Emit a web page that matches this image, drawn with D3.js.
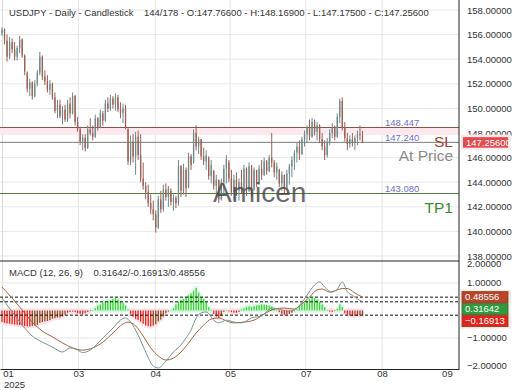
<!DOCTYPE html>
<html>
<head>
<meta charset="utf-8">
<script src="https://cdn.jsdelivr.net/npm/d3@7"></script>
<style>
body { margin: 0; background: #fff; }
svg { display: block; font-family: "Liberation Sans", Arial, sans-serif; }
</style>
</head>
<body>
<div id="chart"></div>
<script>
// daily bars
var opens = [
  156.1,156.4,155.5,154.2,155.4,154.8,154.2,154.9,155.6,154.3,
  152.9,151.6,152.1,151.0,152.0,152.9,154.2,152.6,152.2,151.5,
  152.0,150.9,149.8,150.3,149.4,149.9,149.1,150.4,149.6,151.0,
  148.9,148.3,147.3,147.6,146.8,148.3,148.0,147.7,149.2,148.5,
  149.6,149.0,150.4,150.0,150.8,150.3,150.9,149.9,149.6,150.0,
  148.3,145.7,147.3,146.1,147.7,146.2,144.3,143.7,143.2,142.3,
  141.8,141.4,140.3,142.6,141.8,143.4,142.8,143.3,142.4,142.7,
  142.3,145.3,143.3,145.0,143.6,146.1,145.6,148.0,146.9,147.5,
  146.1,145.7,146.0,144.5,144.9,143.7,144.2,142.6,144.0,145.1,
  145.6,144.3,143.2,144.2,143.3,144.0,143.5,145.1,143.3,145.3,
  143.4,145.0,143.9,145.1,144.6,145.7,144.9,146.0,145.6,144.8,
  145.0,143.9,144.6,143.5,144.7,145.3,145.8,146.4,146.9,146.3,
  147.5,147.9,148.4,147.7,148.9,148.1,148.6,147.5,146.9,146.2,
  147.3,148.0,148.4,147.7,149.3,150.6,148.4,147.6,147.1,147.5,
  147.2,147.6,147.9,147.766];
var highs = [
  156.6,156.5,156.0,155.8,155.7,155.4,155.1,155.9,155.7,154.4,
  153.0,152.4,152.2,152.3,153.1,154.6,154.3,153.1,152.7,152.3,
  152.1,151.3,150.7,150.7,150.2,150.3,150.7,150.9,151.3,151.1,
  149.3,148.5,147.9,147.9,148.6,149.2,148.6,149.5,149.3,149.9,
  149.8,150.7,150.9,151.1,151.0,151.2,151.1,150.5,150.4,150.3,
  148.4,147.8,147.9,148.1,148.2,147.9,145.6,144.0,143.8,143.0,
  142.5,141.7,142.9,143.3,143.8,143.9,143.7,143.5,143.0,142.9,
  145.8,145.4,145.5,145.2,146.4,146.3,148.3,148.65,147.7,147.5,
  146.8,146.6,146.1,145.8,145.0,144.6,144.2,144.3,145.4,146.2,
  145.8,145.0,144.6,144.8,144.3,145.0,145.4,145.2,145.6,145.4,
  145.2,145.0,145.4,145.8,146.0,145.8,146.2,148.0,145.8,145.6,
  145.1,144.9,144.6,145.0,145.5,146.1,146.6,147.2,147.4,147.7,
  148.2,148.6,149.1,149.2,149.1,148.9,148.7,148.0,147.4,147.6,
  148.3,148.8,148.6,149.6,150.8,150.9,148.9,148.0,147.8,148.0,
  147.8,148.2,148.6,148.169];
var lows = [
  155.9,155.2,153.8,154.0,154.5,153.9,153.9,154.5,154.1,152.7,
  151.3,151.0,150.7,150.9,151.8,152.7,152.3,151.9,151.3,151.1,
  150.7,149.6,149.2,149.2,148.7,148.9,148.9,149.2,149.5,148.6,
  148.1,147.0,146.6,146.5,146.7,147.8,147.4,147.6,148.2,148.4,
  148.6,148.9,149.7,149.8,150.0,149.8,149.7,149.2,148.8,148.3,
  145.4,145.4,145.6,144.6,145.8,144.0,143.4,142.6,142.0,141.4,
  140.9,139.9,140.2,141.5,141.6,142.5,142.0,142.1,141.7,141.9,
  142.1,142.8,143.0,142.8,143.5,145.0,145.5,146.6,146.3,145.8,
  145.4,145.0,144.2,143.9,143.4,142.8,142.3,142.5,142.9,143.9,
  144.0,142.9,142.5,142.9,142.5,143.1,143.3,142.9,143.2,142.8,
  143.3,143.6,143.8,144.2,144.5,144.6,144.8,145.2,144.4,144.2,
  143.6,143.3,143.1,143.4,143.8,144.4,145.0,145.6,145.8,146.2,
  146.9,147.2,147.4,147.6,147.8,147.4,147.2,146.6,145.8,146.0,
  147.0,147.6,147.4,147.6,148.8,148.2,147.3,146.6,146.8,146.9,
  146.6,147.0,147.4,147.175];
var closes = [
  156.4,155.5,154.2,155.4,154.8,154.2,154.9,155.6,154.3,153.0,
  151.6,152.1,151.0,152.0,152.9,154.2,152.6,152.2,151.5,152.0,
  150.9,149.8,150.3,149.4,149.9,149.1,150.4,149.6,151.0,148.9,
  148.3,147.3,147.6,146.8,148.3,148.0,147.7,149.2,148.5,149.6,
  149.0,150.4,150.0,150.8,150.3,150.9,149.9,149.6,150.0,148.5,
  145.7,147.3,146.1,147.7,146.2,144.3,143.7,143.2,142.3,141.8,
  141.4,140.3,142.6,141.8,143.4,142.8,143.5,142.4,142.7,142.3,
  145.3,143.3,145.0,143.5,146.1,145.4,148.0,146.9,147.5,146.1,
  145.7,146.2,144.5,145.4,143.7,144.2,142.6,144.0,145.1,145.9,
  144.3,143.2,144.2,143.3,144.0,143.5,145.1,143.3,145.3,143.4,
  145.0,143.9,145.1,144.6,145.7,144.9,146.0,145.6,144.8,145.3,
  143.9,144.6,143.5,144.7,145.3,145.8,146.4,146.9,146.3,147.5,
  147.9,148.4,147.7,148.9,148.1,148.6,147.5,146.9,146.2,147.3,
  148.0,148.4,147.7,149.3,150.6,148.4,147.6,147.1,147.5,147.2,
  147.6,147.9,147.8,147.256];

// MACD histogram, one per bar
var histVals = [
  -0.42,-0.45,-0.47,-0.48,-0.50,-0.51,-0.52,-0.53,-0.55,-0.57,
  -0.58,-0.58,-0.56,-0.55,-0.52,-0.45,-0.42,-0.40,-0.38,-0.35,
  -0.30,-0.28,-0.26,-0.25,-0.22,-0.15,-0.08,-0.05,-0.04,-0.06,
  -0.10,-0.12,-0.13,-0.10,-0.06,-0.02,0.02,0.08,0.18,0.22,
  0.28,0.32,0.35,0.38,0.42,0.45,0.40,0.33,0.28,0.18,
  0.04,-0.12,-0.22,-0.30,-0.34,-0.40,-0.48,-0.54,-0.57,-0.58,
  -0.55,-0.50,-0.40,-0.33,-0.22,-0.10,-0.04,0.02,0.08,0.22,
  0.32,0.38,0.42,0.48,0.55,0.62,0.72,0.82,0.65,0.50,
  0.42,0.30,0.12,0.02,-0.12,-0.22,-0.27,-0.20,-0.05,0.02,
  -0.03,-0.06,-0.08,-0.08,-0.05,0.04,0.08,0.12,0.15,0.13,
  0.16,0.18,0.20,0.22,0.22,0.20,0.18,0.15,0.06,0.00,
  -0.06,-0.12,-0.15,-0.15,-0.12,-0.08,-0.02,0.05,0.15,0.22,
  0.28,0.35,0.42,0.45,0.45,0.40,0.30,0.22,0.12,0.02,
  -0.04,-0.05,-0.02,0.06,0.22,0.12,-0.10,-0.15,-0.18,-0.20,
  -0.20,-0.19,-0.18,-0.16913];

// MACD line (bar index / value)
var macdBars = [0,4,8,12,16,20,24,27,30,32,35,37,40,44,47,49,51,54,57,60,
  62,65,68,71,73,75,77,79,81,84,86,89,92,95,99,103,107,111,114,117,
  120,123,126,128,131,133,135,137,139,141,143];
var macdVals = [0.45,-0.05,-0.53,-0.93,-1.15,-1.33,-1.51,-1.36,-1.44,-1.53,
  -1.44,-1.29,-1.0,-0.64,-0.35,-0.27,-0.42,-0.89,-1.51,-2.02,
  -2.09,-1.84,-1.51,-1.25,-1.0,-0.71,-0.27,-0.09,-0.05,-0.35,
  -0.45,-0.35,-0.42,-0.45,-0.27,-0.2,0.09,0.02,-0.02,0.09,
  0.42,0.82,1.04,0.85,0.67,0.78,1.04,0.68,0.55,0.42,0.31642];
// signal line
var signalBars = [0,4,8,12,16,20,24,28,32,36,40,44,48,50,53,56,59,62,65,68,
  71,74,77,80,83,86,89,92,96,100,104,108,112,116,119,122,125,127,130,133,
  135,137,139,141,143];
var signalVals = [0.85,0.45,0.02,-0.42,-0.75,-0.96,-1.18,-1.36,-1.44,-1.36,
  -1.15,-0.82,-0.49,-0.42,-0.56,-0.93,-1.36,-1.65,-1.8,-1.73,
  -1.51,-1.18,-0.82,-0.53,-0.31,-0.27,-0.38,-0.45,-0.42,-0.35,
  -0.13,0.05,0.09,0.05,0.24,0.49,0.75,0.78,0.67,0.75,
  0.80,0.80,0.70,0.58,0.48556];

var tickBars = [2.4, 30.3, 60.8, 90.5, 120.5, 150.8, 176.5];
var tickLabels = ["01", "03", "04", "05", "07", "08", "09"];
var priceTicks = [138, 140, 142, 144, 146, 148, 150, 152, 154, 156, 158];
var macdTicks = [2, 1, -1, -2];
var levelPrices = [148.447, 147.240, 143.080];
var macdLast = [0.48556, 0.31642, -0.16913];
var lastClose = 147.256;

var width = 520; var height = 390;
var plotRight = 459;
var mainBottom = 261; var macdBottom = 369;
var upColor = "#6d8a89", downColor = "#9a5f55";
var axisFont = "9.5px";

var x = d3.scaleLinear().domain([-0.8, 181.3]).range([0, plotRight]);
var yP = d3.scaleLinear().domain([138, 158]).range([256, 10]);
var yM = d3.scaleLinear().domain([-2, 2]).range([365.5, 255.5]);

var svg = d3.select("#chart").append("svg")
    .attr("width", width)
    .attr("height", height);

var defs = svg.append("defs");
defs.append("clipPath").attr("id", "clipMain")
    .append("rect").attr("x", 0).attr("y", 0).attr("width", plotRight).attr("height", mainBottom);
defs.append("clipPath").attr("id", "clipMacd")
    .append("rect").attr("x", 0).attr("y", mainBottom).attr("width", plotRight).attr("height", macdBottom - mainBottom);

/* grid */
var grid = svg.append("g").attr("class", "grid");
grid.selectAll(".hgrid").data(priceTicks).enter().append("line")
    .attr("x1", 0).attr("x2", plotRight)
    .attr("y1", d => yP(d)).attr("y2", d => yP(d))
    .style("stroke", "#e8e8e8");
grid.selectAll(".mgrid").data([1, -1]).enter().append("line")
    .attr("x1", 0).attr("x2", plotRight)
    .attr("y1", d => yM(d)).attr("y2", d => yM(d))
    .style("stroke", "#e8e8e8");
grid.selectAll(".vgrid").data(tickBars.slice(1, 6)).enter().append("line")
    .attr("x1", d => x(d)).attr("x2", d => x(d))
    .attr("y1", 0).attr("y2", macdBottom)
    .style("stroke", "#e4e4e4");
grid.append("line")
    .attr("x1", 2.5).attr("x2", 2.5).attr("y1", 0).attr("y2", macdBottom)
    .style("stroke", "#dcdcdc");

/* price levels */
var main = svg.append("g").attr("clip-path", "url(#clipMain)");
main.append("rect")
    .attr("x", 0).attr("width", plotRight)
    .attr("y", yP(148.40)).attr("height", yP(147.85) - yP(148.40))
    .style("fill", "#fde8ee");
var levelColors = ["#8a5444", "#7a7a7a", "#4d7f37"];
main.selectAll(".level").data(levelPrices).enter().append("line")
    .attr("x1", 0).attr("x2", plotRight)
    .attr("y1", d => yP(d)).attr("y2", d => yP(d))
    .style("stroke", (d, i) => levelColors[i])
    .style("stroke-width", 1);

/* candles */
var bars = d3.range(opens.length);
var candles = main.append("g").attr("class", "candles");
candles.selectAll(".wick").data(bars).enter().append("line")
    .attr("x1", i => x(i)).attr("x2", i => x(i))
    .attr("y1", i => yP(highs[i])).attr("y2", i => yP(lows[i]))
    .style("stroke", i => closes[i] >= opens[i] ? upColor : downColor)
    .style("stroke-width", 1);
candles.selectAll(".body").data(bars).enter().append("rect")
    .attr("x", i => x(i) - 0.65)
    .attr("width", 1.3)
    .attr("y", i => yP(Math.max(opens[i], closes[i])))
    .attr("height", i => Math.max(1, Math.abs(yP(opens[i]) - yP(closes[i]))))
    .style("fill", i => closes[i] >= opens[i] ? upColor : downColor);

// watermark
main.append("text")
    .attr("x", 213).attr("y", 202)
    .text("Amicen")
    .style("font-size", "28px")
    .style("fill", "#3f3f3f")
    .style("opacity", 0.78);

/* level labels */
var levelText = svg.append("g");
levelText.selectAll(".lvl").data(levelPrices).enter().append("text")
    .attr("x", 385)
    .attr("y", d => yP(d) - 1.8)
    .text(d => d3.format(".3f")(d))
    .style("font-size", axisFont)
    .style("fill", "#6e70c8");
var bigLabels = [
  {t: "SL", p: levelPrices[1], dy: 5, c: "#a8402e"},
  {t: "At Price", p: levelPrices[1], dy: 19, c: "#8a8a8a"},
  {t: "TP1", p: levelPrices[2], dy: 19.5, c: "#3c8a27"}
];
levelText.selectAll(".big").data(bigLabels).enter().append("text")
    .attr("x", 453)
    .attr("y", d => yP(d.p) + d.dy)
    .attr("text-anchor", "end")
    .text(d => d.t)
    .style("font-size", "15.5px")
    .style("fill", d => d.c);

/* MACD panel */
var macdG = svg.append("g").attr("clip-path", "url(#clipMacd)");
var histColor = function(i) {
    var v = histVals[i];
    var prev = i > 0 ? histVals[i - 1] : v;
    if (v >= 0) return "#3ed22c";
    return v > prev ? "#8d4a1c" : "#dc2a1c";
};
macdG.selectAll(".halo").data(bars).enter().append("rect")
    .attr("x", i => x(i) - 1.8)
    .attr("width", 3.6)
    .attr("y", i => Math.min(yM(0), yM(histVals[i])) - 2)
    .attr("height", i => Math.abs(yM(histVals[i]) - yM(0)) + 4)
    .style("fill", i => histVals[i] >= 0 ? "#d9fbe9" : "#ffe0e8");
macdG.selectAll(".hist").data(bars).enter().append("rect")
    .attr("x", i => x(i) - 0.65)
    .attr("width", 1.3)
    .attr("y", i => Math.min(yM(0), yM(histVals[i])))
    .attr("height", i => Math.max(0.6, Math.abs(yM(histVals[i]) - yM(0))))
    .style("fill", histColor);

macdG.selectAll(".dash").data(macdLast).enter().append("line")
    .attr("x1", 0).attr("x2", plotRight)
    .attr("y1", d => yM(d)).attr("y2", d => yM(d))
    .style("stroke", "#111")
    .style("stroke-dasharray", "3,2");

var macdLine = d3.line()
    .x(d => x(d[0]))
    .y(d => yM(d[1]))
    .curve(d3.curveMonotoneX);
macdG.append("path")
    .attr("d", macdLine(d3.zip(signalBars, signalVals)))
    .style("fill", "none").style("stroke", "#a3613f").style("stroke-width", 1);
macdG.append("path")
    .attr("d", macdLine(d3.zip(macdBars, macdVals)))
    .style("fill", "none").style("stroke", "#76958f").style("stroke-width", 1);

/* separators */
svg.append("line")
    .attr("x1", 0).attr("x2", plotRight)
    .attr("y1", mainBottom).attr("y2", mainBottom)
    .style("stroke", "#222");

/* right axes */
var yAxis = d3.axisRight(yP)
    .tickValues(priceTicks)
    .tickFormat(d3.format(".5f"))
    .tickSize(0)
    .tickPadding(8);
var yAxisG = svg.append("g")
    .attr("transform", `translate(${plotRight},0)`)
    .call(yAxis);
yAxisG.select(".domain").remove();

var mAxisG = svg.append("g")
    .attr("transform", `translate(${plotRight},0)`);
mAxisG.selectAll("text").data(macdTicks).enter().append("text")
    .attr("x", 8)
    .attr("y", d => Math.max(yM(d), 264))
    .attr("dy", "0.32em")
    .text(d => d3.format(".5f")(d));

svg.append("line")
    .attr("x1", plotRight).attr("x2", plotRight)
    .attr("y1", 0).attr("y2", macdBottom)
    .style("stroke", "#222");

svg.selectAll("g text").filter(function() { return !this.style.fontSize; })
    .style("font-size", axisFont)
    .style("fill", "#333")
    .style("font-family", '"Liberation Sans", Arial, sans-serif');

/* last price box */
svg.append("rect")
    .attr("x", 461).attr("width", 50)
    .attr("y", yP(lastClose) - 7.5).attr("height", 15)
    .style("fill", "#fde6ec");
svg.append("rect")
    .attr("x", 463).attr("width", 45)
    .attr("y", yP(lastClose) - 5).attr("height", 10.5)
    .style("fill", "#e24a4c");
svg.append("text")
    .attr("x", 466).attr("y", yP(lastClose) + 0.3)
    .attr("dy", "0.34em")
    .text(d3.format(".5f")(lastClose))
    .style("font-size", axisFont)
    .style("fill", "#fff");

/* MACD value boxes, stacked so they do not overlap */
var boxY = [];
macdLast.forEach((v, i) => {
    var yy = yM(v);
    if (i > 0) yy = Math.max(yy, boxY[i - 1] + 12);
    boxY.push(yy);
});
var boxFill = ["#b8452a", "#2f9a40", "#e3231d"];
var boxHalo = ["#f6dcd4", "#d6fbef", "#ffdbe6"];
var boxes = svg.append("g");
boxes.append("rect")
    .attr("x", 462).attr("width", 46)
    .attr("y", boxY[1] + 4).attr("height", boxY[2] - boxY[1] - 2)
    .style("fill", "#6d4414");
boxes.selectAll(".halo").data(macdLast).enter().append("rect")
    .attr("x", 460).attr("width", 51)
    .attr("y", (d, i) => boxY[i] - 7.5).attr("height", 15)
    .style("fill", (d, i) => boxHalo[i])
    .style("opacity", 0.7);
boxes.selectAll(".box").data(macdLast).enter().append("rect")
    .attr("x", 462).attr("width", 46)
    .attr("y", (d, i) => boxY[i] - 5.5).attr("height", 11)
    .style("fill", (d, i) => boxFill[i])
    .style("stroke", "#6d4414")
    .style("stroke-width", 0.8);
boxes.selectAll(".boxText").data(macdLast).enter().append("text")
    .attr("x", 465)
    .attr("y", (d, i) => boxY[i])
    .attr("dy", "0.34em")
    .text(d => d3.format(".5f")(d))
    .style("font-size", axisFont)
    .style("fill", "#fff");

/* x axis */
var xAxis = d3.axisBottom(x)
    .tickValues(tickBars)
    .tickFormat((d, i) => tickLabels[i])
    .tickSize(0)
    .tickPadding(1.5);
var xAxisG = svg.append("g")
    .attr("transform", `translate(0,${macdBottom})`)
    .call(xAxis);
xAxisG.select(".domain").style("stroke", "#222");
xAxisG.selectAll("text")
    .style("font-size", axisFont)
    .style("fill", "#333")
    .style("font-family", '"Liberation Sans", Arial, sans-serif');
svg.append("text")
    .attr("x", 4).attr("y", 388)
    .text("2025")
    .style("font-size", axisFont)
    .style("fill", "#333");

/* titles */
svg.append("text")
    .attr("x", 9).attr("y", 15.5)
    .attr("xml:space", "preserve")
    .text("USDJPY - Daily - Candlestick    144/178 - O:147.76600 - H:148.16900 - L:147.17500 - C:147.25600")
    .style("font-size", axisFont)
    .style("fill", "#333")
    .style("white-space", "pre");
svg.append("text")
    .attr("x", 9).attr("y", 275.5)
    .text("MACD (12, 26, 9)    " + macdLast[1].toFixed(5) + "/" + macdLast[2].toFixed(5) + "/" + macdLast[0].toFixed(5))
    .style("font-size", axisFont)
    .style("fill", "#333")
    .style("white-space", "pre");
</script>
</body>
</html>
